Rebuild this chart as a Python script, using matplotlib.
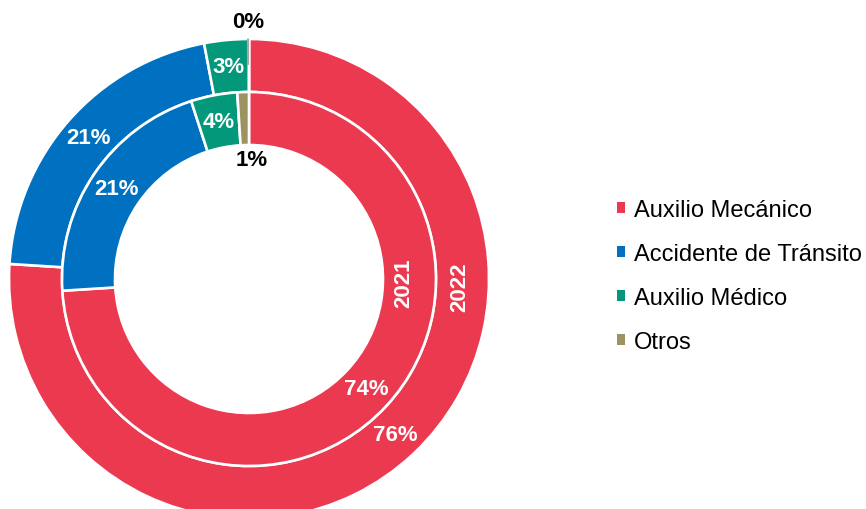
import numpy as np
import matplotlib
matplotlib.use("Agg")
import matplotlib.pyplot as plt
from matplotlib.patches import Patch

plt.rcParams['font.family'] = ['Liberation Sans', 'DejaVu Sans']

categories = ["Auxilio Mecánico", "Accidente de Tránsito", "Auxilio Médico", "Otros"]
colors = ["#EB3950", "#0070C0", "#03987A", "#9C9360"]
values_2022 = [76, 21, 3, 0]
values_2021 = [74, 21, 4, 1]
labels_2022 = ["76%", "21%", "3%", "0%"]
labels_2021 = ["74%", "21%", "4%", "1%"]
years = ["2021", "2022"]

W, H = 866, 510
fig = plt.figure(figsize=(W / 100, H / 100), dpi=100)
ax = fig.add_axes([0, 0, 1, 1])

cx, cy = 249, 230
R_out, R_mid, R_in = 240, 187, 134
edge = dict(edgecolor="white", linewidth=1.9)

w_out, _ = ax.pie(values_2022, colors=colors, radius=R_out, center=(cx, cy),
                  startangle=90, counterclock=False,
                  wedgeprops=dict(width=R_out - R_mid, **edge))
w_in, _ = ax.pie(values_2021, colors=colors, radius=R_mid, center=(cx, cy),
                 startangle=90, counterclock=False,
                 wedgeprops=dict(width=R_mid - R_in, **edge))

ax.set_xlim(0, W)
ax.set_ylim(0, H)
ax.set_aspect('equal')
ax.axis('off')

fs = 16


def mid_angle(w):
    return np.deg2rad((w.theta1 + w.theta2) / 2)


# outer ring labels
r_lab_out = (R_out + R_mid) / 2
for w, lab, v in zip(w_out, labels_2022, values_2022):
    a = mid_angle(w)
    if v >= 2:
        ax.text(cx + r_lab_out * np.cos(a), cy + r_lab_out * np.sin(a), lab,
                color="white", fontsize=fs, fontweight="bold",
                ha="center", va="center")
    else:
        ax.annotate(lab, xy=(cx + 215 * np.cos(a) - 1, cy + 215 * np.sin(a)),
                    xytext=(cx + 257 * np.cos(a) - 1, cy + 257 * np.sin(a)),
                    color="black", fontsize=fs, fontweight="bold",
                    ha="center", va="center",
                    arrowprops=dict(arrowstyle="-", color="#A6A6A6", lw=1.6,
                                    shrinkA=3, shrinkB=0))

# inner ring labels
r_lab_in = (R_mid + R_in) / 2
for w, lab, v in zip(w_in, labels_2021, values_2021):
    a = mid_angle(w)
    if v >= 2:
        ax.text(cx + r_lab_in * np.cos(a), cy + r_lab_in * np.sin(a), lab,
                color="white", fontsize=fs, fontweight="bold",
                ha="center", va="center")
    else:
        ax.text(cx + 3, cy + 119, lab,
                color="black", fontsize=fs, fontweight="bold",
                ha="center", va="center")

# year labels in the red ring
ax.text(cx + r_lab_in - 6, cy - 3, years[0], color="white", fontsize=fs,
        fontweight="bold", rotation=90, ha="center", va="center")
ax.text(cx + r_lab_out - 3, cy - 7, years[1], color="white", fontsize=fs,
        fontweight="bold", rotation=90, ha="center", va="center")

handles = [Patch(facecolor=c, edgecolor="none") for c in colors]
leg = ax.legend(handles, categories, loc="center left",
                bbox_to_anchor=(617 / W, (H - 277) / H),
                bbox_transform=fig.transFigure,
                frameon=False, fontsize=17, handlelength=0.34,
                handleheight=0.34, handletextpad=0.36, labelspacing=0.92,
                borderpad=0, borderaxespad=0)

fig.savefig("out.png", dpi=100)
